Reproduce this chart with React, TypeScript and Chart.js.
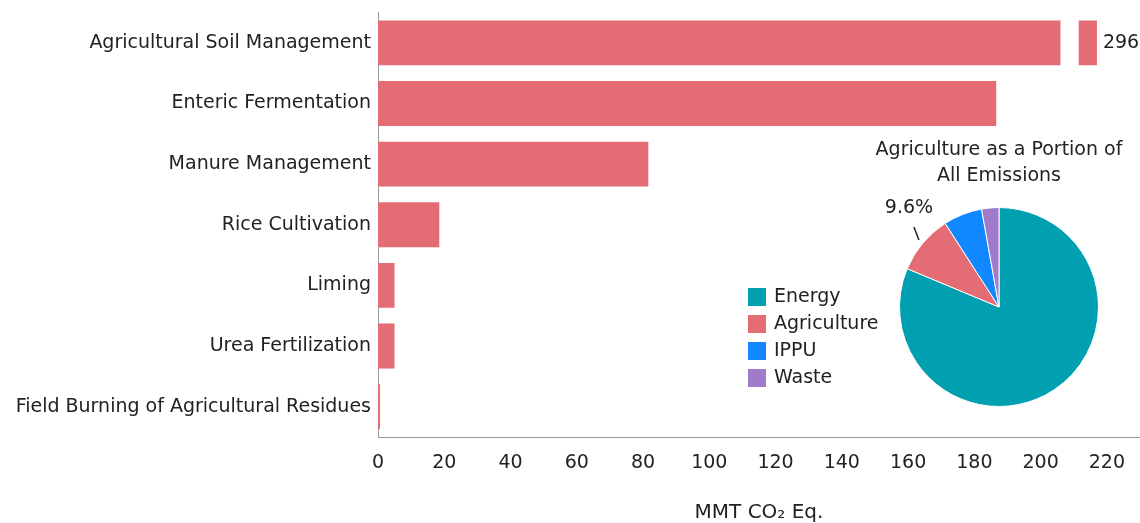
import React, { useEffect, useRef } from "react";
import { Chart, registerables } from "chart.js";

Chart.register(...registerables);

const categories = [
  "Agricultural Soil Management",
  "Enteric Fermentation",
  "Manure Management",
  "Rice Cultivation",
  "Liming",
  "Urea Fertilization",
  "Field Burning of Agricultural Residues",
];
const emissions = [296, 186.6, 81.6, 18.5, 5.0, 5.0, 0.6];

const xTickStep = 20;
const xMax = 230;
// axis break for values that exceed the visible range
const breakFrom = 206;
const breakTo = 211.5;
const breakShownEnd = 217;

const pieLabels = ["Energy", "Agriculture", "IPPU", "Waste"];
const pieShares = [81.3, 9.6, 6.3, 2.8];
const pieColors = ["#00A0B0", "#E46C75", "#1188FF", "#A07ACB"];

const BAR_COLOR = "#E46C75";
const FONT = "'DejaVu Sans', Verdana, sans-serif";
const FS = 19;
const TEXT = "#222222";

const breakPlugin = {
  id: "axisBreak",
  afterDatasetsDraw(chart: any) {
    const meta = chart.getDatasetMeta(0);
    const xs = chart.scales.x;
    const ctx = chart.ctx;
    emissions.forEach((v, i) => {
      if (v <= breakShownEnd) return;
      const bar: any = meta.data[i];
      const h = bar.height;
      const x0 = xs.getPixelForValue(breakFrom);
      const x1 = xs.getPixelForValue(breakTo);
      ctx.save();
      ctx.fillStyle = "#ffffff";
      ctx.fillRect(x0, bar.y - h / 2 - 1, x1 - x0, h + 2);
      ctx.fillStyle = TEXT;
      ctx.font = `${FS}px ${FONT}`;
      ctx.textAlign = "left";
      ctx.textBaseline = "middle";
      ctx.fillText(String(v), bar.x + 6, bar.y);
      ctx.restore();
    });
  },
};

// pie canvas is placed at page (730,130) and is 538 wide so that its centre is the pie centre
const pieExtras = {
  id: "pieExtras",
  afterDraw(chart: any) {
    const ctx = chart.ctx;
    const colors = chart.data.datasets[0].backgroundColor;
    ctx.save();
    ctx.font = `${FS}px ${FONT}`;
    ctx.textBaseline = "middle";
    ctx.textAlign = "left";
    chart.data.labels.forEach((lab: string, i: number) => {
      const cy = 167 + i * 27;
      ctx.fillStyle = colors[i];
      ctx.fillRect(18, cy - 9, 18, 18);
      ctx.fillStyle = TEXT;
      ctx.fillText(lab, 44, cy);
    });
    const arc: any = chart.getDatasetMeta(0).data[1];
    const mid = (arc.startAngle + arc.endAngle) / 2;
    const r = arc.outerRadius + 5;
    const px = arc.x + Math.cos(mid) * r;
    const py = arc.y + Math.sin(mid) * r;
    ctx.strokeStyle = TEXT;
    ctx.lineWidth = 1.5;
    ctx.beginPath();
    ctx.moveTo(px, py);
    ctx.lineTo(px - 5, py - 13);
    ctx.stroke();
    ctx.textAlign = "center";
    ctx.textBaseline = "alphabetic";
    ctx.fillText(pieShares[1].toFixed(1) + "%", px - 10, py - 27);
    ctx.restore();
  },
};

export default function App() {
  const barRef = useRef<HTMLCanvasElement>(null);
  const pieRef = useRef<HTMLCanvasElement>(null);

  useEffect(() => {
    const bar = new Chart(barRef.current!, {
      type: "bar",
      data: {
        labels: categories,
        datasets: [
          {
            data: emissions.map((v) => (v > breakShownEnd ? breakShownEnd : v)),
            backgroundColor: BAR_COLOR,
            barPercentage: 0.74,
            categoryPercentage: 1,
          },
        ],
      },
      options: {
        indexAxis: "y",
        animation: false,
        responsive: false,
        maintainAspectRatio: false,
        layout: { padding: { top: 12.6, right: 0, bottom: 0, left: 0 } },
        plugins: { legend: { display: false }, tooltip: { enabled: false } },
        scales: {
          x: {
            min: 0,
            max: xMax,
            grid: { display: false, drawTicks: false },
            border: { display: true, color: "#999999", width: 1 },
            ticks: {
              stepSize: xTickStep,
              includeBounds: false,
              color: TEXT,
              font: { size: FS, family: FONT },
              padding: 15,
            },
            title: {
              display: true,
              text: "MMT CO₂ Eq.",
              color: TEXT,
              font: { size: 20, family: FONT },
              padding: { top: 25, bottom: -2 },
            },
            afterFit(scale: any) {
              scale.height = 86;
            },
          },
          y: {
            grid: { display: false, drawTicks: false },
            border: { display: true, color: "#999999", width: 1 },
            ticks: {
              color: TEXT,
              font: { size: FS, family: FONT },
              padding: 7,
            },
            afterFit(scale: any) {
              scale.width = 378;
              scale.paddingTop = 0;
              scale.paddingBottom = 0;
            },
          },
        },
      },
      plugins: [breakPlugin],
    });

    const pie = new Chart(pieRef.current!, {
      type: "pie",
      data: {
        labels: pieLabels,
        datasets: [
          {
            data: pieShares,
            backgroundColor: pieColors,
            borderColor: "#ffffff",
            borderWidth: 1,
          },
        ],
      },
      options: {
        animation: false,
        responsive: false,
        maintainAspectRatio: false,
        layout: { padding: 0 },
        plugins: {
          legend: { display: false },
          tooltip: { enabled: false },
          title: {
            display: true,
            text: ["Agriculture as a Portion of", "All Emissions"],
            color: TEXT,
            font: { size: FS, family: FONT, weight: "normal", lineHeight: 1.37 },
            padding: { top: 7, bottom: 18 },
          },
        },
      },
      plugins: [pieExtras],
    });

    return () => {
      bar.destroy();
      pie.destroy();
    };
  }, []);

  return (
    <div
      style={{
        position: "fixed",
        left: 0,
        top: 0,
        width: 1140,
        height: 523,
        background: "#fff",
        overflow: "hidden",
      }}
    >
      <canvas ref={barRef} width={1140} height={523} style={{ position: "absolute", left: 0, top: 0 }} />
      <canvas ref={pieRef} width={538} height={277} style={{ position: "absolute", left: 730, top: 130 }} />
    </div>
  );
}
